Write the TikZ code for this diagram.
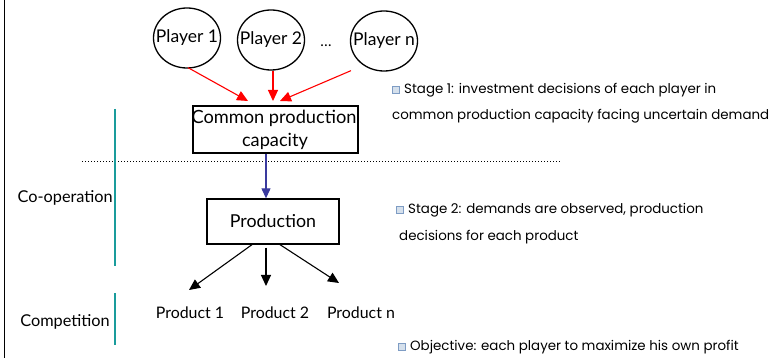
\documentclass[tikz,border=0pt]{standalone}
\usepackage{fontspec}
\setmainfont{Lato}
\newfontfamily\geo{Poppins}
\usetikzlibrary{arrows.meta,shapes.geometric,calc}
\definecolor{teal1}{HTML}{1A9C9C}
\definecolor{navy1}{HTML}{3A3A9E}
\definecolor{bulletfill}{HTML}{D5E0EC}
\definecolor{bulletdraw}{HTML}{7E9CC4}
\tikzset{
  player/.style={ellipse,draw,line width=1.3pt,minimum width=67pt,minimum height=60pt,inner sep=0pt,
    label={[font=\fontsize{17.5}{20}\selectfont,inner sep=0pt]center:#1}},
  boxnode/.style={draw,line width=1.3pt,inner sep=0pt},
  redarrow/.style={red,line width=1.1pt,-{Triangle[length=11pt,width=10pt]}},
  bluearrow/.style={navy1,line width=1.1pt,-{Triangle[length=10pt,width=9pt]}},
  blackarrow/.style={black,line width=1.1pt,-{Triangle[length=11pt,width=10pt]}},
  tealline/.style={teal1,line width=2.2pt},
  btext/.style={anchor=west,inner sep=0pt,font=\geo\fontsize{13.4}{15}\selectfont},
  bulletsq/.style={draw=bulletdraw,fill=bulletfill,line width=1.3pt,minimum size=7pt,inner sep=0pt},
  ltext/.style={inner sep=0pt,font=\fontsize{16.3}{18}\selectfont},
  prodtext/.style={inner sep=0pt,font=\fontsize{15.9}{18}\selectfont}
}
\begin{document}
\begin{tikzpicture}[x=1pt,y=-1pt]
\useasboundingbox (0,0) rectangle (774,358);
\draw[line width=1.2pt] (4.5,0) -- (4.5,358);
% players
\node[player=Player 1] (p1) at (187,38) {};
\node[player=Player 2] (p2) at (271,40) {};
\node[player=Player n] (pn) at (384,41) {};
\node[inner sep=0pt,font=\fontsize{15}{16}\selectfont] (dots) at (326,46) {\dots};
% common capacity
\node[boxnode,minimum width=165pt,minimum height=47pt] (cap) at (275.5,129.5) {};
\node[inner sep=0pt,font=\fontsize{18.2}{20}\selectfont] (capt1) at (274,118) {Common production};
\node[inner sep=0pt,font=\fontsize{18.2}{20}\selectfont] (capt2) at (275,141) {capacity};
\coordinate (c1) at (248,101);
\coordinate (c2) at (273,101);
\coordinate (c3) at (280,101);
\draw[redarrow] ($(p1.south)+(1,-1)$) -- (c1);
\draw[redarrow] ($(p2.south)+(2,0)$) -- (c2);
\draw[redarrow] ($(pn.south)+(-33,-1)$) -- (c3);
% dotted line
\coordinate (d1) at (82,161.5);
\coordinate (d2) at (560,161.5);
\draw[line width=1pt,dotted] (d1) -- (d2);
% production
\node[boxnode,minimum width=132pt,minimum height=45pt,font=\fontsize{17.8}{20}\selectfont] (prod) at (273,221.5) {Production};
\draw[bluearrow] (cap.south -| 266,0) -- (prod.north -| 266,0);
% products
\node[prodtext] (pr1) at (190,313) {Product 1};
\node[prodtext] (pr2) at (275,313) {Product 2};
\node[prodtext] (prn) at (361,313) {Product n};
\coordinate (e1) at (189,290);
\coordinate (e2) at (266,286);
\coordinate (e3) at (339,283);
\draw[blackarrow] (prod.south -| 252,0) -- (e1);
\draw[blackarrow] ($(prod.south -| 266,0)+(0,3)$) -- (e2);
\draw[blackarrow] (prod.south -| 280,0) -- (e3);
% teal brackets and labels
\coordinate (t1) at (115,109);
\coordinate (t2) at (115,266);
\coordinate (t3) at (115,293);
\coordinate (t4) at (115,345);
\draw[tealline] (t1) -- (t2);
\draw[tealline] (t3) -- (t4);
\node[ltext,anchor=east] (coop) at (113,198) {Co-operation};
\node[ltext,anchor=east] (comp) at (110,322) {Competition};
% bullet texts
\node[bulletsq] (b1) at (396,90) {};
\node[btext] (s1a) at (404,90) {Stage 1: investment decisions of each player in};
\node[btext] (s1b) at (392,116) {common production capacity facing uncertain demand};
\node[bulletsq] (b2) at (400,210) {};
\node[btext] (s2a) at (408,210) {Stage 2: demands are observed, production};
\node[btext] (s2b) at (399,237) {decisions for each product};
\node[bulletsq] (b3) at (402,347) {};
\node[btext] (s3) at (410,347) {Objective: each player to maximize his own profit};
\end{tikzpicture}
\end{document}
